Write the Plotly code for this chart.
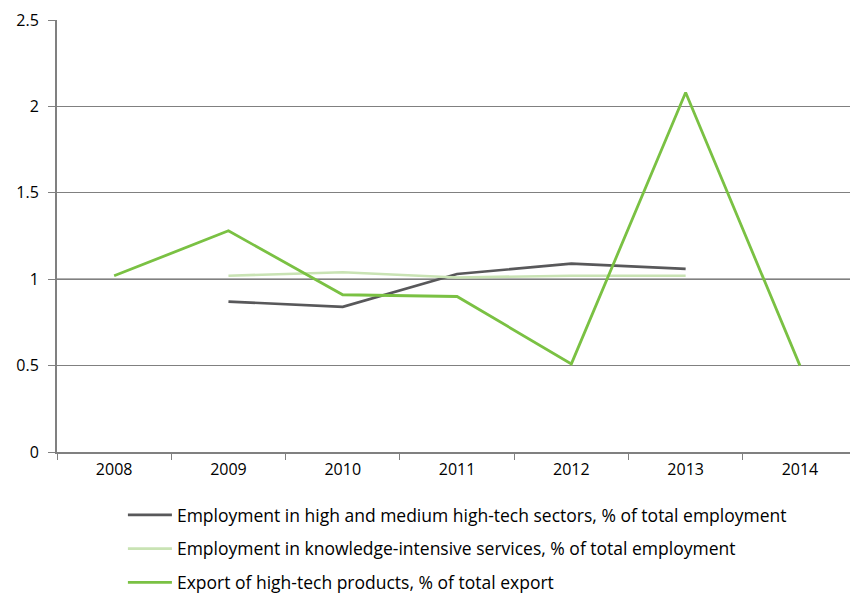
import plotly.graph_objects as go

years = ["2008", "2009", "2010", "2011", "2012", "2013", "2014"]
hightech_emp = [None, 0.87, 0.84, 1.03, 1.09, 1.06, None]
kis_emp = [None, 1.02, 1.04, 1.01, 1.02, 1.02, None]
hightech_export = [1.02, 1.28, 0.91, 0.90, 0.51, 2.08, 0.50]

names = [
    "Employment in high and medium high-tech sectors, % of total employment",
    "Employment in knowledge-intensive services, % of total employment",
    "Export of high-tech products, % of total export",
]
colors = ["#58585a", "#c9e3b4", "#7ac143"]
widths = [2.6, 2.6, 2.8]
series = [hightech_emp, kis_emp, hightech_export]

xs = list(range(len(years)))
fig = go.Figure()
for i, (n, s) in enumerate(zip(names, series)):
    fig.add_trace(go.Scatter(x=xs, y=s, name=n, mode="lines",
                             line=dict(color=colors[i], width=widths[i]),
                             legendgroup=f"g{i}", connectgaps=False))

fig.add_shape(type="line", xref="paper", x0=0, x1=1, yref="y", y0=1, y1=1,
              line=dict(color="#000000", width=1), layer="below")

fig.update_layout(
    width=850, height=595,
    margin=dict(l=57, r=0, t=20, b=143, autoexpand=False),
    paper_bgcolor="white", plot_bgcolor="white",
    font=dict(family="Open Sans", size=15, color="#000000"),
    xaxis=dict(range=[-0.5, 6.438], tickvals=xs, ticktext=years,
               ticks="", showgrid=False, zeroline=False,
               showline=True, linecolor="#808080", linewidth=2,
               tickfont=dict(size=16), ticklabelstandoff=2,
               minor=dict(tick0=0.5, dtick=1, ticks="outside", ticklen=6,
                          tickcolor="#808080", tickwidth=1, showgrid=False)),
    yaxis=dict(range=[0, 2.5], tickvals=[0, 0.5, 1, 1.5, 2, 2.5],
               ticktext=["0", "0.5", "1", "1.5", "2", "2.5"],
               ticks="outside", ticklen=7, tickcolor="#808080",
               showgrid=True, gridcolor="#808080", gridwidth=1,
               zeroline=False, showline=True, linecolor="#808080", linewidth=2,
               tickfont=dict(size=16), ticklabelstandoff=6),
    legend=dict(xref="container", yref="container",
                x=0.1446, y=1 - 497 / 595, xanchor="left", yanchor="top",
                orientation="v", traceorder="grouped", tracegroupgap=8,
                itemwidth=44,
                font=dict(size=17.5), bgcolor="rgba(0,0,0,0)"),
    showlegend=True,
)

fig.write_html("out.html")
